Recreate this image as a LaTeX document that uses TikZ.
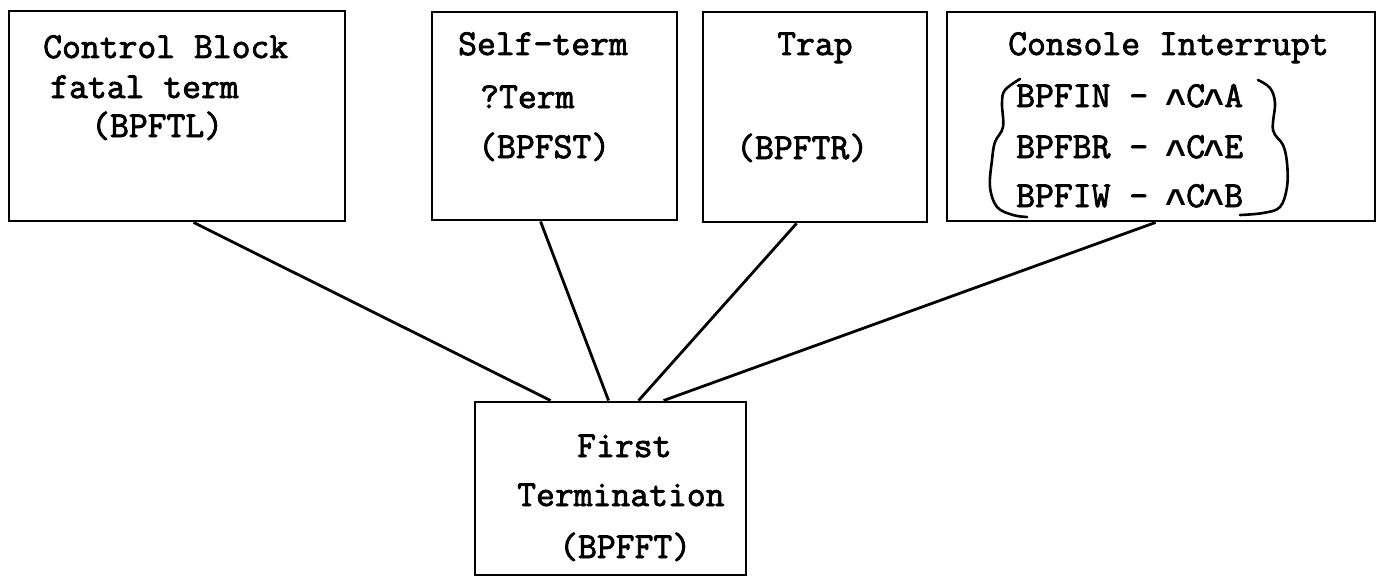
\documentclass[tikz,border=0pt]{standalone}
\usepackage{fontspec}
\usetikzlibrary{calc}
\newfontfamily\tw[FakeBold=2.2]{Latin Modern Mono}
\newfontfamily\caretfont{Liberation Mono Bold}
% lowered caret as used for control-key notation
\newcommand{\crt}{\makebox[19.2pt]{\raisebox{-0.20em}{\caretfont\fontsize{36}{40}\selectfont\string^}}}
\begin{document}
\begin{tikzpicture}[x=1pt,y=-1pt,
  box/.style={draw=black,line width=2.9pt,inner sep=0pt,fill=none},
  txt/.style={anchor=base west,inner sep=0pt,font=\tw\fontsize{36.6}{44}\selectfont},
  link/.style={draw=black,line width=2.8pt},
  brace/.style={draw=black,line width=2.6pt,line cap=round}]
\useasboundingbox (0,0) rectangle (1381,578);

% boxes
\node[box,minimum width=336pt,minimum height=210pt] (cb) at (177,116) {};
\node[box,minimum width=245pt,minimum height=208pt] (st) at (554.5,116) {};
\node[box,minimum width=224pt,minimum height=210pt] (tr) at (815,117) {};
\node[box,minimum width=428pt,minimum height=209pt] (ci) at (1161,116.5) {};
\node[box,minimum width=271pt,minimum height=173pt] (ft) at (610.5,488.5) {};

% texts
\node[txt] (cb1) at (43,58) {Control Block};
\node[txt] (cb2) at (50,98) {fatal term};
\node[txt] (cb3) at (91,137) {(BPFTL)};

\node[txt] (st1) at (458,55) {Self-term};
\node[txt] (st2) at (480,108) {?Term};
\node[txt] (st3) at (478,158) {(BPFST)};

\node[txt] (tr1) at (777,55) {Trap};
\node[txt] (tr2) at (736,159) {(BPFTR)};

\node[txt] (ci1) at (1008,55) {Console Interrupt};
\node[txt] (ci2) at (1016,107) {BPFIN - \crt C\crt A};
\node[txt] (ci3) at (1016,158) {BPFBR - \crt C\crt E};
\node[txt] (ci4) at (1016,207) {BPFIW - \crt C\crt B};

\node[txt] (ft1) at (577,457) {First};
\node[txt] (ft2) at (517,506) {Termination};
\node[txt] (ft3) at (559,558) {(BPFFT)};

% hand-drawn braces around the key list
\draw[brace] plot[smooth,tension=0.6] coordinates {(1020,79) (1005,90) (1002,103) (1003,127) (995,142) (992,160) (990,187) (997,207) (1013,215) (1027,217)};
\draw[brace] plot[smooth,tension=0.6] coordinates {(1258,80) (1270,88) (1275,103) (1273,130) (1283,145) (1287,163) (1287,187) (1280,207) (1263,213) (1240,215)};

% connectors to the first-termination box
\draw[link] ($(cb.south west)+(186,0)$) -- ($(ft.north west)+(77,0)$);
\draw[link] ($(st.south west)+(110,0)$) -- ($(ft.north west)+(135,0)$);
\draw[link] ($(tr.south west)+(95,0)$) -- ($(ft.north west)+(165,0)$);
\draw[link] ($(ci.south west)+(210,0)$) -- ($(ft.north west)+(190,0)$);
\end{tikzpicture}
\end{document}
